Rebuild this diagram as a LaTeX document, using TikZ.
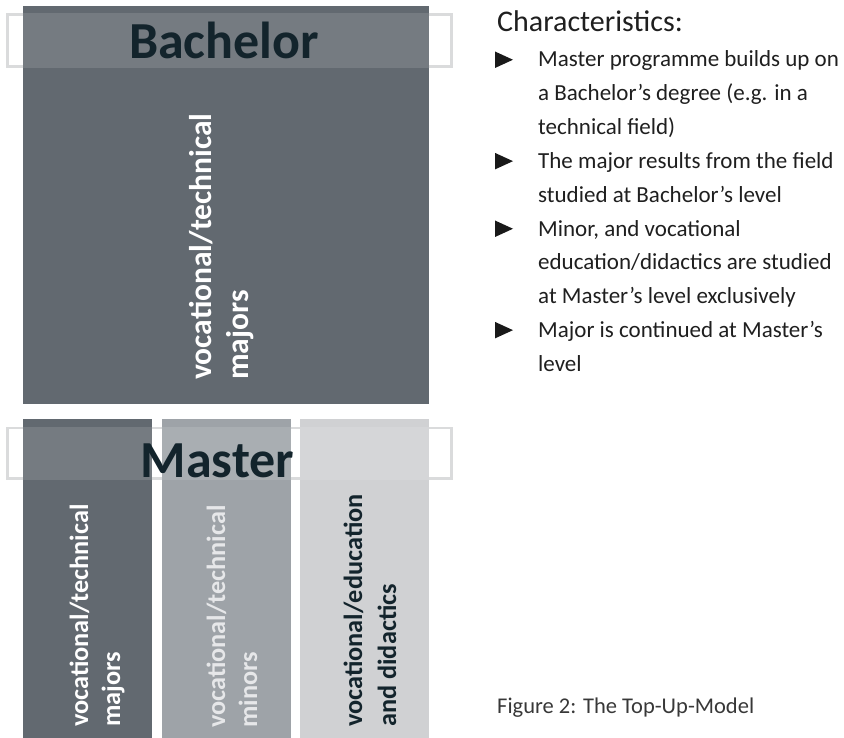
\documentclass[tikz,border=0pt]{standalone}
\usepackage{fontspec}
\setmainfont{Carlito}
\definecolor{slate}{HTML}{626970}
\definecolor{mist}{HTML}{9EA3A8}
\definecolor{fog}{HTML}{D0D1D3}
\definecolor{ink}{HTML}{13242C}
\definecolor{rimgray}{HTML}{D6D7D8}
\definecolor{paletext}{HTML}{E6E7E9}

\begin{document}
\begin{tikzpicture}[x=1pt, y=-1pt,
    box/.style = {anchor=north west, inner sep=0, outer sep=0, minimum width=129pt, minimum height=319pt},
    rim/.style = {draw=rimgray, line width=2.7pt},
    glow/.style = {fill=white, fill opacity=0.12},
    title/.style = {anchor=base, inner sep=0, text=ink, font=\fontsize{52}{52}\selectfont\bfseries},
    vtext/.style = {rotate=90, anchor=west, inner sep=0, align=left},
    item/.style = {anchor=base west, inner sep=0, align=left, text=black!88, font=\fontsize{23}{33.8}\selectfont}]
    \useasboundingbox (0,0) rectangle (844,738);
    \draw[rim] (7.7,14.7) rectangle (451.3,66.3);
    \draw[rim] (7.7,428) rectangle (451.3,478.5);
    \node[box, fill=slate, minimum width=406pt, minimum height=398pt] (bachelor) at (23,6) {};
    \node[box, fill=slate] (majors) at (23,419) {};
    \node[box, fill=mist] (minors) at (162,419) {};
    \node[box, fill=fog] (didactics) at (300,419) {};
    \fill[glow] (6.3,13.3) rectangle (452.7,67.7);
    \fill[glow] (6.3,426.6) rectangle (452.7,479.9);
    \node[title] (bachelortitle) at (224,59) {Bachelor};
    \node[title] (mastertitle) at (217.5,477) {Master};
    \node[vtext, text=white, font=\fontsize{31.5}{37}\selectfont\bfseries] (bmaj) at ([xshift=-4pt,yshift=24pt]bachelor.south) {vocational/technical\\majors};
    \node[vtext, text=white, font=\fontsize{26.3}{32}\selectfont\bfseries] (mmaj) at ([xshift=9.5pt,yshift=11pt]majors.south) {vocational/technical\\majors};
    \node[vtext, text=paletext, font=\fontsize{26.3}{32}\selectfont\bfseries] (mmin) at ([xshift=5.5pt,yshift=10pt]minors.south) {vocational/technical\\minors};
    \node[vtext, text=ink, font=\fontsize{26.3}{34}\selectfont\bfseries] (mdid) at ([xshift=5.5pt,yshift=11pt]didactics.south) {vocational/education\\and didactics};
    \node[anchor=base west, inner sep=0, text=black!88, font=\fontsize{30}{30}\selectfont] (chars) at (497,32) {Characteristics:};
    % base of a multi-line node is its last line
    \node[item] (item1) at (538,134.6) {Master programme builds up on\\a Bachelor's degree (e.g. in a\\technical field)};
    \node[item] (item2) at (538,202.2) {The major results from the field\\studied at Bachelor's level};
    \node[item] (item3) at (538,303.6) {Minor, and vocational\\education/didactics are studied\\at Master's level exclusively};
    \node[item] (item4) at (538,371.2) {Major is continued at Master's\\level};
    \foreach \b in {67,168.4,236,337.4}
        \fill[black!90] (495,\b+1) -- (495,\b-15.5) -- (513,\b-7.25) -- cycle;
    \node[anchor=base west, inner sep=0, text=black!78, font=\fontsize{22.5}{22.5}\selectfont] (caption) at (497,713) {Figure 2: The Top-Up-Model};
\end{tikzpicture}
\end{document}
